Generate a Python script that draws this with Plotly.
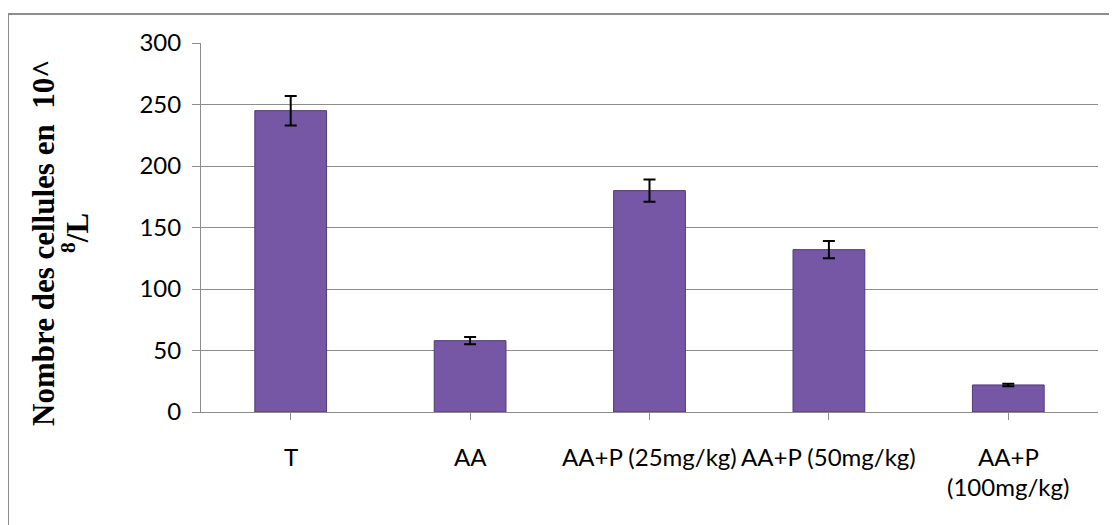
import plotly.graph_objects as go

categories = ["T", "AA", "AA+P (25mg/kg)", "AA+P (50mg/kg)", "AA+P\n(100mg/kg)"]
values = [245, 58, 180, 132, 22]
errors = [12, 3, 9, 7, 1]
y_ticks = [0, 50, 100, 150, 200, 250, 300]

OFF = 8  # page body margin
W, H = 1117 - OFF, 525 - OFF
L, T = 201 - OFF, 43 - OFF
R = W - (1098 - OFF)
B = H - (412 - OFF)
pw, ph = W - L - R, H - T - B

def px_x(x):
    return (x - OFF - L) / pw

def px_y(y):
    return (H - B - (y - OFF)) / ph

fig = go.Figure()
fig.add_trace(go.Bar(
    x=list(range(len(categories))), y=values,
    marker=dict(color="#7657a5", line=dict(color="#4e3a75", width=1)),
    error_y=dict(type="data", array=errors, visible=True, color="#000000",
                 thickness=2, width=6),
    width=0.4,
))

annotations = []
for i, lab in enumerate(categories):
    lines = lab.split("\n")
    for j, ln in enumerate(lines):
        annotations.append(dict(
            x=i, xref="x", y=px_y(456 + 31 * j), yref="paper",
            text=ln, showarrow=False, yanchor="middle", xanchor="center",
            font=dict(family="Lato", size=24, color="#000000"),
        ))

title_lines = ["<b>Nombre des cellules en  10^</b>", "<b><sup>8</sup>/L</b>"]
title_x = [43, 75]
title_y = [243, 233]
for t, xx, yy in zip(title_lines, title_x, title_y):
    annotations.append(dict(
        x=px_x(xx), xref="paper", y=px_y(yy), yref="paper",
        text=t, textangle=-90, showarrow=False,
        xanchor="center", yanchor="middle",
        font=dict(family="Liberation Serif", size=31, color="#000000"),
    ))

fig.update_layout(
    width=W, height=H,
    margin=dict(l=L, r=R, t=T, b=B),
    paper_bgcolor="white", plot_bgcolor="white",
    showlegend=False,
    annotations=annotations,
    shapes=[dict(type="rect", xref="paper", yref="paper",
                 x0=px_x(8), x1=px_x(1125), y0=px_y(535), y1=px_y(14),
                 line=dict(color="#8c8c8c", width=2), layer="below")],
    xaxis=dict(
        range=[-0.5, len(categories) - 0.5],
        tickmode="array", tickvals=list(range(len(categories))),
        showticklabels=False, ticks="outside", ticklen=7, tickcolor="#8c8c8c",
        tickson="boundaries",
        showline=True, linecolor="#8c8c8c", linewidth=1,
        showgrid=False, zeroline=False,
    ),
    yaxis=dict(
        range=[0, 300], tickvals=y_ticks,
        ticks="outside", ticklen=8, tickcolor="#8c8c8c",
        showline=True, linecolor="#8c8c8c", linewidth=1,
        showgrid=True, gridcolor="#8c8c8c", gridwidth=1,
        zeroline=False,
        tickfont=dict(family="Lato", size=24, color="#000000"),
        ticklabelstandoff=6,
    ),
)

fig.write_html("out.html")
